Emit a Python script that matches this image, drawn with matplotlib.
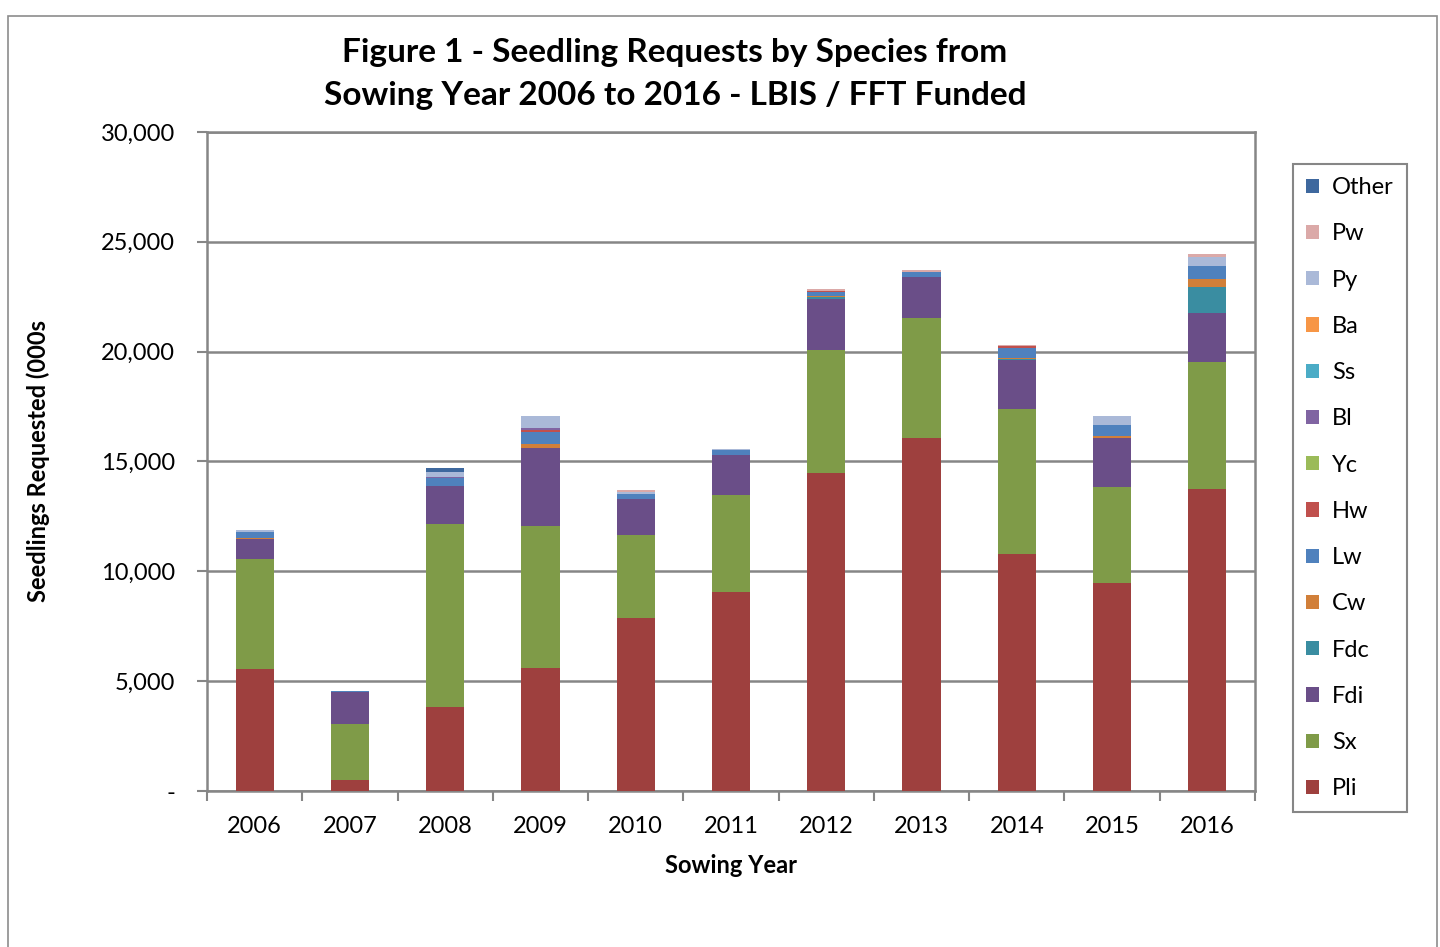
import matplotlib.pyplot as plt
import numpy as np
from matplotlib.patches import Rectangle

plt.rcParams['font.family'] = ['Lato', 'DejaVu Sans']

years = ['2006', '2007', '2008', '2009', '2010', '2011', '2012', '2013', '2014', '2015', '2016']

# stacked from the bottom up
pli = [5550, 500, 3820, 5600, 7875, 9060, 14475, 16070, 10790, 9470, 13750]
sx = [5000, 2550, 8330, 6460, 3775, 4415, 5600, 5460, 6600, 4370, 5780]
fdi = [920, 1440, 1750, 3570, 1630, 1835, 2305, 1880, 2210, 2240, 2230]
fdc = [0, 0, 0, 0, 0, 0, 90, 0, 45, 0, 1180]
cw = [60, 0, 0, 150, 0, 0, 75, 0, 75, 75, 380]
lw = [245, 60, 365, 575, 245, 210, 180, 210, 455, 500, 575]
hw = [0, 0, 0, 75, 0, 0, 45, 0, 75, 0, 0]
yc = [0, 0, 0, 0, 0, 0, 0, 0, 0, 0, 0]
bl = [0, 0, 45, 105, 0, 0, 0, 0, 0, 0, 0]
ss = [0, 0, 0, 0, 0, 0, 0, 0, 0, 0, 0]
ba = [0, 0, 0, 0, 0, 0, 0, 0, 0, 0, 0]
py = [100, 0, 200, 530, 105, 40, 0, 0, 0, 410, 410]
pw = [0, 0, 0, 0, 75, 0, 75, 90, 45, 0, 120]
other = [0, 0, 200, 0, 0, 0, 0, 0, 0, 0, 0]

species = ['Pli', 'Sx', 'Fdi', 'Fdc', 'Cw', 'Lw', 'Hw', 'Yc', 'Bl', 'Ss', 'Ba', 'Py', 'Pw', 'Other']
series = [pli, sx, fdi, fdc, cw, lw, hw, yc, bl, ss, ba, py, pw, other]
colors = ['#9E403E', '#7F9B48', '#6A4E88', '#3A8DA1', '#D17F39', '#4F81BD', '#C0504D',
          '#9BBB59', '#8064A2', '#4BACC6', '#F79646', '#AAB9D8', '#DBA9A8', '#3E689E']

fig = plt.figure(figsize=(14.4, 9.47), dpi=100)
ax = fig.add_axes([207 / 1440, 156 / 947, 1048 / 1440, 659 / 947])

# outer chart frame
fig.patches.append(Rectangle((8 / 1440, -0.01), 1429 / 1440, 0.002 + 939 / 947,
                             transform=fig.transFigure, fill=False, edgecolor='#8C8C8C', lw=1.2))

x = np.arange(len(years))
bottom = np.zeros(len(years))
handles = []
for name, vals, c in zip(species, series, colors):
    b = ax.bar(x, vals, 0.4, bottom=bottom, color=c, label=name, zorder=3)
    handles.append(b)
    bottom += np.array(vals)

ax.set_xlim(-0.5, len(years) - 0.5)
ax.set_ylim(0, 30000)
ax.set_yticks(range(0, 30001, 5000))
ax.set_yticklabels(['-'] + ['{:,}'.format(v) for v in range(5000, 30001, 5000)], fontsize=17)
ax.set_xticks(x)
ax.set_xticklabels(years, fontsize=17)
ax.set_xticks(np.arange(-0.5, len(years), 1), minor=True)
ax.tick_params(axis='x', which='major', length=0, pad=18)
ax.tick_params(axis='x', which='minor', length=7, color='#868686', width=1.5)
ax.tick_params(axis='y', length=7, color='#868686', width=1.5, pad=16)
ax.yaxis.grid(True, color='#868686', lw=1.8, zorder=0)
for s in ax.spines.values():
    s.set_color('#868686')
    s.set_linewidth(1.8)

ax.set_xlabel('Sowing Year', fontsize=17, fontweight='bold', labelpad=12)
ax.set_ylabel('Seedlings Requested (000s', fontsize=17, fontweight='bold')
ax.yaxis.set_label_coords(-0.15, 0.5)
fig.text(675 / 1440, 1 - 74 / 947, 'Figure 1 - Seedling Requests by Species from\nSowing Year 2006 to 2016 - LBIS / FFT Funded',
         ha='center', va='center', fontsize=24, fontweight='bold', linespacing=1.58)

leg = fig.legend(handles[::-1], species[::-1], loc='upper left',
                 bbox_to_anchor=(1293 / 1440, 1 - 164 / 947), borderaxespad=0, fontsize=17,
                 handlelength=0.55, handleheight=0.55, labelspacing=1.07,
                 borderpad=0.55, handletextpad=0.55, fancybox=False, framealpha=1)
leg.get_frame().set_edgecolor('#868686')
leg.get_frame().set_linewidth(1.5)

plt.savefig('out.png', dpi=100)
